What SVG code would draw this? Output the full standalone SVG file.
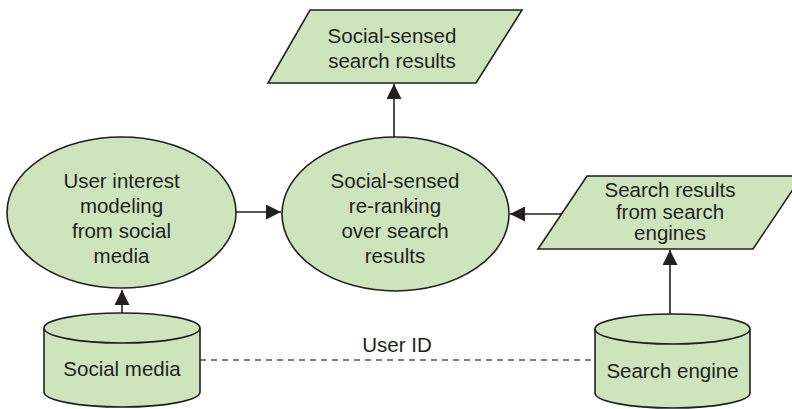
<svg xmlns="http://www.w3.org/2000/svg" width="792" height="409" viewBox="0 0 792 409">
<style>
.shape{fill:#cde4bd;stroke:#231f20;stroke-width:1.6}
.t{font-family:"Liberation Sans","Noto Sans",Arial,sans-serif;font-size:20.5px;fill:#231f20;text-anchor:middle}
.c{stroke:#231f20;stroke-width:1.6;fill:none}
.d{stroke:#555;stroke-width:1.3;fill:none;stroke-dasharray:6 5}
</style>
<defs>
<marker id="ah" markerUnits="userSpaceOnUse" markerWidth="16" markerHeight="15" refX="15" refY="7.5" orient="auto">
<path d="M0,0 L15,7.5 L0,15 z" fill="#231f20"/>
</marker>
</defs>
<rect width="792" height="409" fill="#fff"/>
<g id="connectors">
<line class="c" x1="236" y1="212" x2="281" y2="212" marker-end="url(#ah)"/>
<line class="c" x1="394" y1="137" x2="394" y2="84" marker-end="url(#ah)"/>
<line class="c" x1="561" y1="214" x2="510" y2="214" marker-end="url(#ah)"/>
<line class="c" x1="670" y1="314" x2="670" y2="250" marker-end="url(#ah)"/>
<line class="c" x1="122" y1="313" x2="122" y2="290" marker-end="url(#ah)"/>
<line class="d" x1="200" y1="360" x2="595" y2="360"/>
<text class="t" x="397" y="352">User ID</text>
</g>
<g id="social-sensed-results">
<path class="shape" d="M310,10 L522,10 L476,83 L268,83 Z"/>
<text class="t" x="392" y="43">Social-sensed</text>
<text class="t" x="392" y="68">search results</text>
</g>
<g id="user-interest">
<ellipse class="shape" cx="121.5" cy="212.5" rx="114.5" ry="75.5"/>
<text class="t" x="121.5" y="188">User interest</text>
<text class="t" x="121.5" y="213">modeling</text>
<text class="t" x="121.5" y="238">from social</text>
<text class="t" x="121.5" y="263">media</text>
</g>
<g id="reranking">
<ellipse class="shape" cx="395.5" cy="214" rx="113.5" ry="77"/>
<text class="t" x="395" y="188">Social-sensed</text>
<text class="t" x="395" y="213">re-ranking</text>
<text class="t" x="395" y="238">over search</text>
<text class="t" x="395" y="263">results</text>
</g>
<g id="search-results">
<path class="shape" d="M587,176 L802,176 L753,249 L538,249 Z"/>
<text class="t" x="670" y="197">Search results</text>
<text class="t" x="670" y="218.5">from search</text>
<text class="t" x="670" y="240">engines</text>
</g>
<g id="social-media">
<path class="shape" d="M44,328 L44,392 A78,15 0 0 0 200,392 L200,328"/>
<ellipse class="shape" cx="122" cy="328" rx="78" ry="15"/>
<text class="t" x="122" y="376">Social media</text>
</g>
<g id="search-engine">
<path class="shape" d="M595,329 L595,393 A77.5,15 0 0 0 750,393 L750,329"/>
<ellipse class="shape" cx="672.5" cy="329" rx="77.5" ry="15"/>
<text class="t" x="672.5" y="378">Search engine</text>
</g>
</svg>
